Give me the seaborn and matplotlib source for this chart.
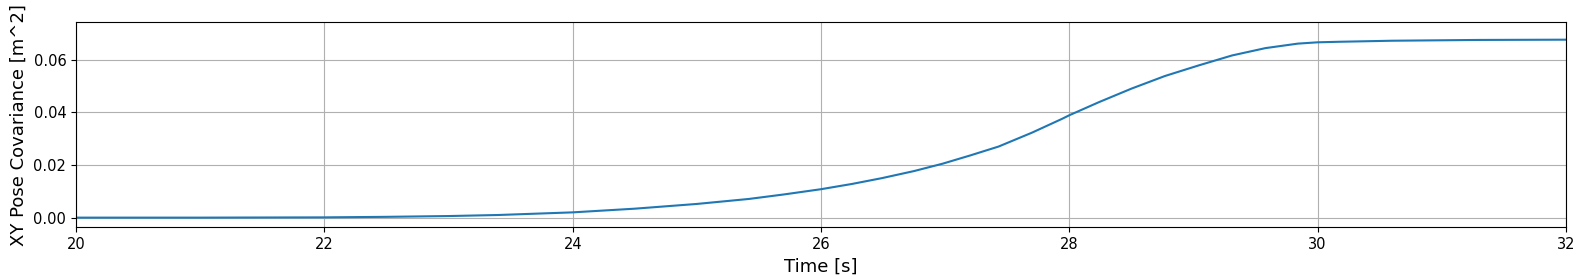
import matplotlib
matplotlib.use("Agg")
import matplotlib.pyplot as plt
import seaborn as sns
import pandas as pd

time_s = [20.0, 21.0, 22.0, 22.5, 23.0, 23.4, 24.0, 24.5, 25.0, 25.42, 25.7, 26.0, 26.25,
          26.49, 26.75, 26.98, 27.2, 27.43, 27.7, 27.94, 28.0, 28.24, 28.5, 28.77, 29.04,
          29.31, 29.58, 29.84, 30.0, 30.17, 30.6, 31.3, 32.0]
xy_cov = [0.0000, 0.0000, 0.0001, 0.0003, 0.0006, 0.0010, 0.0020, 0.0034, 0.0052, 0.0071,
          0.0088, 0.0108, 0.0128, 0.0150, 0.0177, 0.0205, 0.0236, 0.0270, 0.0323, 0.0375,
          0.0389, 0.0439, 0.0490, 0.0538, 0.0578, 0.0616, 0.0644, 0.0661, 0.0666, 0.0668,
          0.0672, 0.0675, 0.0676]

df = pd.DataFrame({"Time [s]": time_s, "cov": xy_cov})

fig, ax = plt.subplots(figsize=(15.85, 2.79), dpi=100)
sns.lineplot(data=df, x="Time [s]", y="cov", ax=ax, color="#1f77b4", linewidth=1.5)
ax.set_xlim(20, 32)
ax.set_ylim(-0.0036, 0.0743)
ax.set_xticks([20, 22, 24, 26, 28, 30, 32])
ax.set_yticks([0.0, 0.02, 0.04, 0.06])
ax.set_yticklabels(["0.00", "0.02", "0.04", "0.06"])
ax.grid(True, color="#b0b0b0", linewidth=0.8)
ax.set_xlabel("Time [s]", fontsize=13)
ax.set_ylabel("XY Pose Covariance [m^2]", fontsize=13)
ax.tick_params(labelsize=10.5)
fig.subplots_adjust(left=0.048, right=0.988, top=0.921, bottom=0.186)
fig.savefig("out.png", dpi=100)
